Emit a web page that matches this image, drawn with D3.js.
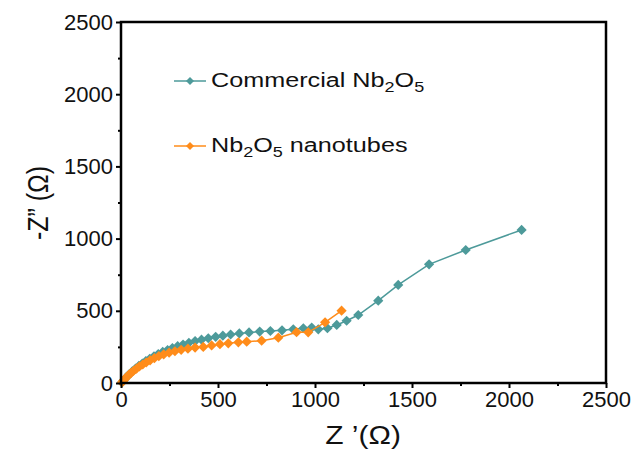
<!DOCTYPE html>
<html>
<head>
<meta charset="utf-8">
<script src="https://cdn.jsdelivr.net/npm/d3@7"></script>
<style>
  body { margin: 0; background: #fff; }
  svg text { font-family: "Liberation Sans", Arial, sans-serif; fill: #111; }
</style>
</head>
<body>
<svg id="chart" width="637" height="454"></svg>
<script>
// Commercial Nb2O5 (Z', -Z'')
var commZre = [5, 15, 28, 42, 58, 75, 92, 110, 128, 148, 170, 192, 215, 240, 265, 292, 320, 350, 382, 415,
  450, 488, 525, 565, 610, 660, 715, 770, 830, 888, 940, 983, 1017, 1064, 1112, 1163, 1223, 1326, 1429, 1588, 1777, 2065];
var commZim = [5, 20, 40, 60, 80, 100, 118, 135, 152, 168, 185, 200, 215, 228, 242, 255, 266, 278, 290, 300,
  310, 320, 328, 336, 343, 350, 356, 360, 365, 372, 379, 384, 372, 379, 402, 431, 471, 570, 679, 822, 921, 1060];
// Nb2O5 nanotubes
var tubeZre = [5, 12, 20, 30, 40, 52, 65, 80, 95, 112, 130, 150, 172, 195, 220, 248, 278, 310, 345, 382,
  424, 467, 510, 553, 605, 648, 725, 811, 905, 965, 1052, 1137];
var tubeZim = [5, 15, 28, 42, 56, 70, 85, 100, 115, 128, 142, 157, 172, 186, 198, 210, 220, 230, 238, 245,
  250, 260, 269, 275, 282, 286, 293, 314, 352, 351, 420, 501];
var xTicks = [0, 500, 1000, 1500, 2000, 2500];
var yTicks = [0, 500, 1000, 1500, 2000, 2500];

var svg = d3.select('#chart');
var pLeft = 121, pRight = 606, pTop = 22, pBottom = 383;
var x = d3.scaleLinear().domain([0, 2500]).range([pLeft, pRight]);
var y = d3.scaleLinear().domain([0, 2500]).range([pBottom, pTop]);
var teal = '#4d9a9a', orange = '#ff8c1a';

var series = [
  {name: 'comm', color: teal, pts: d3.zip(commZre, commZim)},
  {name: 'tube', color: orange, pts: d3.zip(tubeZre, tubeZim)}
];

var line = d3.line().x(function (d) { return x(d[0]); }).y(function (d) { return y(d[1]); });
var diamond = d3.symbol().type(d3.symbolSquare).size(52);

series.forEach(function (s) {
  var g = svg.append('g');
  g.append('path').attr('d', line(s.pts)).attr('fill', 'none')
    .attr('stroke', s.color).attr('stroke-width', 1.5);
  g.selectAll('path.m').data(s.pts).enter().append('path')
    .attr('class', 'm')
    .attr('d', diamond)
    .attr('fill', s.color)
    .attr('transform', function (d) { return 'translate(' + x(d[0]) + ',' + y(d[1]) + ') rotate(45)'; });
});

// axes
var xAxis = d3.axisBottom(x).tickValues(xTicks).tickSize(5).tickPadding(3).tickFormat(d3.format('d'));
var yAxis = d3.axisLeft(y).tickValues(yTicks).tickSize(5).tickPadding(3).tickFormat(d3.format('d'));
var xMinor = d3.axisBottom(x).tickValues(d3.range(250, 2500, 500)).tickSize(3).tickFormat('');
var yMinor = d3.axisLeft(y).tickValues(d3.range(250, 2500, 500)).tickSize(3).tickFormat('');

function styleAxis(g) {
  g.select('.domain').remove();
  g.selectAll('line').attr('stroke', '#000').attr('stroke-width', 2);
  g.selectAll('text').style('font-size', '22px').attr('fill', '#111');
}
svg.append('g').attr('transform', 'translate(0,' + pBottom + ')').call(xAxis).call(styleAxis);
svg.append('g').attr('transform', 'translate(0,' + pBottom + ')').call(xMinor).call(styleAxis);
svg.append('g').attr('transform', 'translate(' + pLeft + ',0)').call(yAxis).call(styleAxis);
svg.append('g').attr('transform', 'translate(' + pLeft + ',0)').call(yMinor).call(styleAxis);

svg.append('rect').attr('x', pLeft).attr('y', pTop).attr('width', pRight - pLeft).attr('height', pBottom - pTop)
  .attr('fill', 'none').attr('stroke', '#000').attr('stroke-width', 2.5);

// axis titles (the source figure is stretched sideways)
svg.append('text').attr('transform', 'translate(363,444) scale(1.2,1)').attr('text-anchor', 'middle')
  .style('font-size', '25px').text('Z \u2019(\u03A9)');
svg.append('text').attr('transform', 'translate(48,203) rotate(-90) scale(1,1.2)').attr('text-anchor', 'middle')
  .style('font-size', '25px').text('-Z\u201D (\u03A9)');

// legend
var legend = [
  {color: teal, y: 81, parts: [['Commercial Nb', 0], ['2', 1], ['O', 0], ['5', 1]]},
  {color: orange, y: 146, parts: [['Nb', 0], ['2', 1], ['O', 0], ['5', 1], [' nanotubes', 0]]}
];
legend.forEach(function (l) {
  svg.append('line').attr('x1', 174).attr('x2', 206).attr('y1', l.y).attr('y2', l.y)
    .attr('stroke', l.color).attr('stroke-width', 1.5);
  svg.append('path').attr('d', d3.symbol().type(d3.symbolSquare).size(32))
    .attr('fill', l.color).attr('transform', 'translate(190,' + l.y + ') rotate(45)');
  var t = svg.append('text').attr('transform', 'translate(211,' + (l.y + 6) + ') scale(1.2,1)')
    .style('font-size', '21px');
  l.parts.forEach(function (p, i) {
    t.append('tspan').text(p[0])
      .style('font-size', p[1] ? '15px' : '21px')
      .attr('dy', p[1] ? 5 : (i > 0 ? -5 : 0));
  });
});
</script>
</body>
</html>
